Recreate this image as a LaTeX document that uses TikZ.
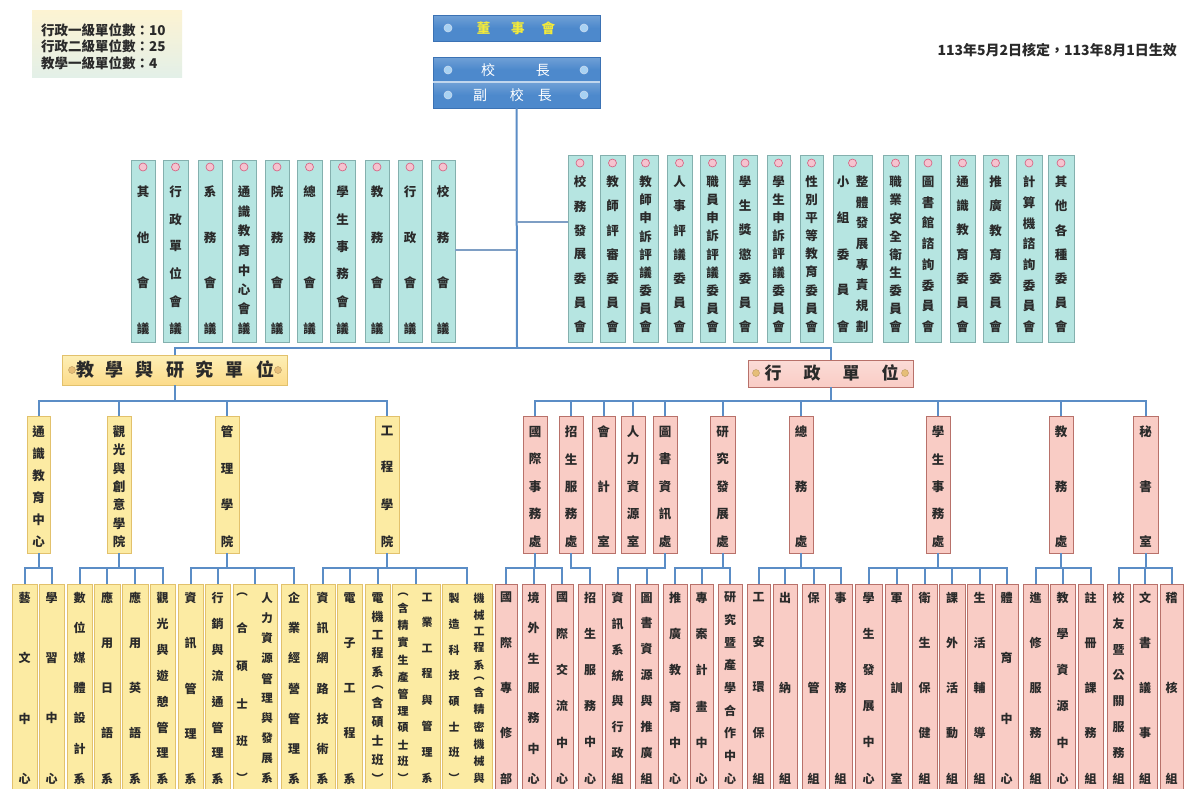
\documentclass[tikz,border=0pt]{standalone}
\usepackage{fontspec}
\setmainfont{Noto Sans CJK TC}
\definecolor{lineblue}{HTML}{5B8DC6}
\definecolor{stubblue}{HTML}{7E9EC4}
\definecolor{cfill}{HTML}{B6E5E1}
\definecolor{cdraw}{HTML}{84B0AE}
\definecolor{yfill}{HTML}{FCEBA3}
\definecolor{ydraw}{HTML}{E2C16C}
\definecolor{pfill}{HTML}{F9CCC5}
\definecolor{pdraw}{HTML}{B8716A}
\definecolor{tblue}{HTML}{4D89CC}
\definecolor{tbluedark}{HTML}{3B72B4}
\definecolor{dotblue}{HTML}{A8D2F3}
\definecolor{boardyellow}{HTML}{F3EA3A}
\definecolor{iconfill}{HTML}{F5C3CF}
\definecolor{icondraw}{HTML}{D55C7E}
\definecolor{orng}{HTML}{E6BE78}
\definecolor{txt}{HTML}{2A2A2A}
\definecolor{legtop}{HTML}{FDF3D2}
\definecolor{legbot}{HTML}{E3F0E8}

\ExplSyntaxOn
\NewDocumentCommand \vtext { m m }
  {
    \vbox to #1 pt
      {
        \offinterlineskip
        \bool_set_false:N \l_tmpa_bool
        \tl_map_inline:nn {#2}
          {
            \bool_if:NT \l_tmpa_bool { \vfill }
            \hbox to 1.1em { \hss ##1 \hss }
            \bool_set_true:N \l_tmpa_bool
          }
      }
  }
\ExplSyntaxOff

\tikzset{
  cbox/.style={draw=cdraw, fill=cfill, line width=0.9pt, inner sep=0pt, outer sep=0pt},
  ybox/.style={draw=ydraw, fill=yfill, line width=0.9pt, inner sep=0pt, outer sep=0pt},
  pbox/.style={draw=pdraw, fill=pfill, line width=0.9pt, inner sep=0pt, outer sep=0pt},
  tbox/.style={draw=tbluedark, top color=tblue!80!white, bottom color=tblue, middle color=tblue, line width=0.8pt, inner sep=0pt, outer sep=0pt},
  thead/.style={draw=ydraw, top color=yfill!80!white, bottom color=yfill!85!orange, line width=1pt, inner sep=0pt, outer sep=0pt},
  ahead/.style={draw=pdraw, top color=pfill!70!white, bottom color=pfill, line width=1pt, inner sep=0pt, outer sep=0pt},
  legbox/.style={draw=none, top color=legtop, bottom color=legbot, inner sep=0pt, outer sep=0pt},
  icon/.style={circle, minimum size=8pt, inner sep=0pt, fill=iconfill, draw=icondraw, line width=0.6pt},
  dotb/.style={circle, minimum size=8pt, inner sep=0pt, fill=dotblue, draw=white!70!tblue, line width=0.6pt},
  orn/.style={circle, minimum size=7pt, inner sep=0pt, fill=orng, draw=orng!80!black, line width=0.4pt},
  conn/.style={draw=lineblue, line width=2pt},
  stub/.style={draw=stubblue, line width=1.6pt},
}

\newcommand\bx[6]{\node[#1, minimum width=\fpeval{#5-#3}pt, minimum height=\fpeval{#6-#4}pt] (#2) at ({(#3+#5)/2},{(#4+#6)/2}) {};}
\newcommand\vt[6]{\node[anchor=north, inner sep=0pt, text=txt, font=\bfseries\fontsize{#5}{#5}\selectfont] (#1) at ({#2},{#3-#5/2}) {\vtext{\fpeval{#4-#3+#5}}{#6}};}
\newcommand\lcomm[4]{\bx{cbox}{#1}{#2}{160}{#3}{342}\node[icon] (#1i) at ({(#2+#3)/2},167) {};\vt{#1t}{(#2+#3)/2}{192}{327}{12.5}{#4}}
\newcommand\rcomm[4]{\bx{cbox}{#1}{#2}{155}{#3}{342}\node[icon] (#1i) at ({(#2+#3)/2},163) {};\vt{#1t}{(#2+#3)/2}{182}{325}{12.5}{#4}}
\newcommand\lone[5]{\bx{#1}{#2}{#3}{416}{#4}{553}\vt{#2t}{(#3+#4)/2}{432}{540}{12.5}{#5}}
\newcommand\ltwo[5]{\bx{#1}{#2}{#3}{584}{#4}{790}\vt{#2t}{(#3+#4)/2}{598}{777}{12}{#5}}
\newcommand\tree[2]{\foreach \c in {#2} {\draw[conn] (#1.south) -- (#1.south |- 0,568) -| (\c.north);}}

\begin{document}
\begin{tikzpicture}[x=1pt,y=-1pt]
\useasboundingbox (0,0) rectangle (1184,788);
\clip (0,0) rectangle (1184,788);
\fill[white] (0,0) rectangle (1184,788);

% ---------- legend and date ----------
\bx{legbox}{leg}{32}{10}{182}{77}
\node[anchor=north west, align=left, inner sep=0pt, text=txt, font=\bfseries\fontsize{13.5}{16.5}\selectfont] (legt) at (41,23) {行政一級單位數：10\\行政二級單位數：25\\教學一級單位數：4};
\node[anchor=east, inner sep=0pt, text=txt, font=\bfseries\fontsize{14}{14}\selectfont] (date) at (1177,50) {113年5月2日核定，113年8月1日生效};

% ---------- top boxes ----------
\bx{tbox}{board}{433}{15}{600}{41}
\node[dotb] (bd1) at (448,28) {};
\node[dotb] (bd2) at (584,28) {};
\node[inner sep=0pt, text=boardyellow, font=\bfseries\fontsize{13.5}{13.5}\selectfont] (boardt) at (516,28) {董\hspace{21pt}事\hspace{17pt}會};

\bx{tbox}{pres1}{433}{57}{600}{82}
\bx{tbox}{pres2}{433}{82}{600}{108}
\draw[white!65!tblue, line width=1.2pt] (pres1.south west) -- (pres1.south east);
\node[dotb] (pd1) at (448,70) {};
\node[dotb] (pd2) at (584,70) {};
\node[dotb] (pd3) at (448,95) {};
\node[dotb] (pd4) at (584,95) {};
\node[inner sep=0pt, text=white, font=\fontsize{14}{14}\selectfont] (prest) at (515.5,70) {校\hspace{41pt}長};
\node[inner sep=0pt, text=white, font=\fontsize{14}{14}\selectfont] (vpt) at (512.5,95) {副\hspace{23pt}校\hspace{14pt}長};

% ---------- left committees ----------
\lcomm{L1}{131}{155}{其他會議}
\lcomm{L2}{163}{188}{行政單位會議}
\lcomm{L3}{198}{222}{系務會議}
\lcomm{L4}{232}{256}{通識教育中心會議}
\lcomm{L5}{265}{289}{院務會議}
\lcomm{L6}{297}{322}{總務會議}
\lcomm{L7}{330}{355}{學生事務會議}
\lcomm{L8}{365}{389}{教務會議}
\lcomm{L9}{398}{422}{行政會議}
\lcomm{L10}{431}{455}{校務會議}

% ---------- right committees ----------
\rcomm{R1}{568}{592}{校務發展委員會}
\rcomm{R2}{600}{625}{教師評審委員會}
\rcomm{R3}{633}{658}{教師申訴評議委員會}
\rcomm{R4}{667}{692}{人事評議委員會}
\rcomm{R5}{700}{725}{職員申訴評議委員會}
\rcomm{R6}{733}{757}{學生獎懲委員會}
\rcomm{R7}{767}{790}{學生申訴評議委員會}
\rcomm{R8}{800}{823}{性別平等教育委員會}
\bx{cbox}{R9}{833}{155}{872}{342}
\node[icon] (R9i) at (852.5,163) {};
\vt{R9a}{862}{182}{325}{12.5}{整體發展專責規劃}
\vt{R9b}{843}{182}{325}{12.5}{小組委員會}
\rcomm{R10}{883}{908}{職業安全衛生委員會}
\rcomm{R11}{915}{941}{圖書館諮詢委員會}
\rcomm{R12}{950}{975}{通識教育委員會}
\rcomm{R13}{983}{1008}{推廣教育委員會}
\rcomm{R14}{1016}{1042}{計算機諮詢委員會}
\rcomm{R15}{1048}{1074}{其他各種委員會}

% ---------- headers ----------
\bx{thead}{teach}{62}{355}{287}{385}
\node[orn] (to1) at (72,370) {};
\node[orn] (to2) at (278,370) {};
\node[inner sep=0pt, text=txt, font=\bfseries\fontsize{18}{18}\selectfont] (teacht) at (175,370) {教\hspace{12pt}學\hspace{12pt}與\hspace{12pt}研\hspace{12pt}究\hspace{12pt}單\hspace{12pt}位};
\bx{ahead}{admin}{748}{360}{913}{387}
\node[orn] (ao1) at (756,373) {};
\node[orn] (ao2) at (905,373) {};
\node[inner sep=0pt, text=txt, font=\bfseries\fontsize{17}{17}\selectfont] (admint) at (831.5,373) {行\hspace{22pt}政\hspace{22pt}單\hspace{22pt}位};

% ---------- level one ----------
\lone{ybox}{T1}{27}{50}{通識教育中心}
\lone{ybox}{T2}{107}{131}{觀光與創意學院}
\lone{ybox}{T3}{215}{239}{管理學院}
\lone{ybox}{T4}{375}{399}{工程學院}

\lone{pbox}{A1}{523}{547}{國際事務處}
\lone{pbox}{A2}{559}{583}{招生服務處}
\lone{pbox}{A3}{592}{615}{會計室}
\lone{pbox}{A4}{621}{645}{人力資源室}
\lone{pbox}{A5}{653}{677}{圖書資訊處}
\lone{pbox}{A6}{710}{735}{研究發展處}
\lone{pbox}{A7}{789}{813}{總務處}
\lone{pbox}{A8}{926}{950}{學生事務處}
\lone{pbox}{A9}{1049}{1073}{教務處}
\lone{pbox}{A10}{1133}{1158}{秘書室}

% ---------- level two: teaching ----------
\ltwo{ybox}{Y1}{12}{37}{藝文中心}
\ltwo{ybox}{Y2}{39}{64}{學習中心}
\ltwo{ybox}{Y3}{67}{92}{數位媒體設計系}
\ltwo{ybox}{Y4}{94}{120}{應用日語系}
\ltwo{ybox}{Y5}{122}{148}{應用英語系}
\ltwo{ybox}{Y6}{150}{175}{觀光與遊憩管理系}
\ltwo{ybox}{Y7}{178}{203}{資訊管理系}
\ltwo{ybox}{Y8}{205}{230}{行銷與流通管理系}
\bx{ybox}{Y9}{233}{584}{277}{790}
\vt{Y9a}{267}{598}{777}{11.5}{人力資源管理與發展系}
\vt{Y9b}{242}{598}{777}{11.5}{︵合碩士班︶}
\ltwo{ybox}{Y10}{281}{307}{企業經營管理系}
\ltwo{ybox}{Y11}{310}{335}{資訊網路技術系}
\ltwo{ybox}{Y12}{337}{362}{電子工程系}
\ltwo{ybox}{Y13}{365}{390}{電機工程系︵含碩士班︶}
\bx{ybox}{Y14}{392}{584}{440}{790}
\vt{Y14a}{427}{598}{777}{11}{工業工程與管理系}
\vt{Y14b}{403}{598}{777}{11}{︵含精實生產管理碩士班︶}
\bx{ybox}{Y15}{442}{584}{492}{790}
\vt{Y15a}{479}{598}{777}{11}{機械工程系︵含精密機械與}
\vt{Y15b}{454}{598}{777}{11}{製造科技碩士班︶}

% ---------- level two: administration ----------
\ltwo{pbox}{P1}{495}{517}{國際專修部}
\ltwo{pbox}{P2}{522}{545}{境外生服務中心}
\ltwo{pbox}{P3}{551}{573}{國際交流中心}
\ltwo{pbox}{P4}{578}{602}{招生服務中心}
\ltwo{pbox}{P5}{605}{630}{資訊系統與行政組}
\ltwo{pbox}{P6}{635}{658}{圖書資源與推廣組}
\ltwo{pbox}{P7}{663}{687}{推廣教育中心}
\ltwo{pbox}{P8}{690}{713}{專案計畫中心}
\ltwo{pbox}{P9}{718}{742}{研究暨產學合作中心}
\ltwo{pbox}{P10}{747}{770}{工安環保組}
\ltwo{pbox}{P11}{773}{797}{出納組}
\ltwo{pbox}{P12}{802}{825}{保管組}
\ltwo{pbox}{P13}{829}{852}{事務組}
\ltwo{pbox}{P14}{855}{882}{學生發展中心}
\ltwo{pbox}{P15}{885}{908}{軍訓室}
\ltwo{pbox}{P16}{912}{937}{衛生保健組}
\ltwo{pbox}{P17}{939}{965}{課外活動組}
\ltwo{pbox}{P18}{967}{992}{生活輔導組}
\ltwo{pbox}{P19}{995}{1018}{體育中心}
\ltwo{pbox}{P20}{1023}{1048}{進修服務組}
\ltwo{pbox}{P21}{1050}{1075}{教學資源中心}
\ltwo{pbox}{P22}{1078}{1103}{註冊課務組}
\ltwo{pbox}{P23}{1107}{1130}{校友暨公關服務組}
\ltwo{pbox}{P24}{1133}{1157}{文書議事組}
\ltwo{pbox}{P25}{1160}{1183}{稽核組}

% ---------- connectors ----------
\coordinate (trunk) at (517,348);
\coordinate (jl) at (517,250);
\coordinate (jr) at (517,222);
\draw[conn] (pres2.south) -- (trunk);
\draw[stub] (jl) -- (L10.east |- jl);
\draw[stub] (jr) -- (R1.west |- jr);
\draw[conn] (teach.north) |- (trunk) -| (admin.north);
\foreach \c in {T1,T2,T3,T4} {\draw[conn] (teach.south) -- (teach.south |- 0,401) -| (\c.north);}
\foreach \c in {A1,A2,A3,A4,A5,A6,A7,A8,A9,A10} {\draw[conn] (admin.south) -- (admin.south |- 0,401) -| (\c.north);}
\tree{T1}{Y1,Y2}
\tree{T2}{Y3,Y4,Y5,Y6}
\tree{T3}{Y7,Y8,Y9,Y10}
\tree{T4}{Y11,Y12,Y13,Y14,Y15}
\tree{A1}{P1,P2,P3}
\tree{A2}{P4}
\tree{A5}{P5,P6}
\tree{A6}{P7,P8,P9}
\tree{A7}{P10,P11,P12,P13}
\tree{A8}{P14,P15,P16,P17,P18,P19}
\tree{A9}{P20,P21,P22}
\tree{A10}{P23,P24,P25}
\end{tikzpicture}
\end{document}
